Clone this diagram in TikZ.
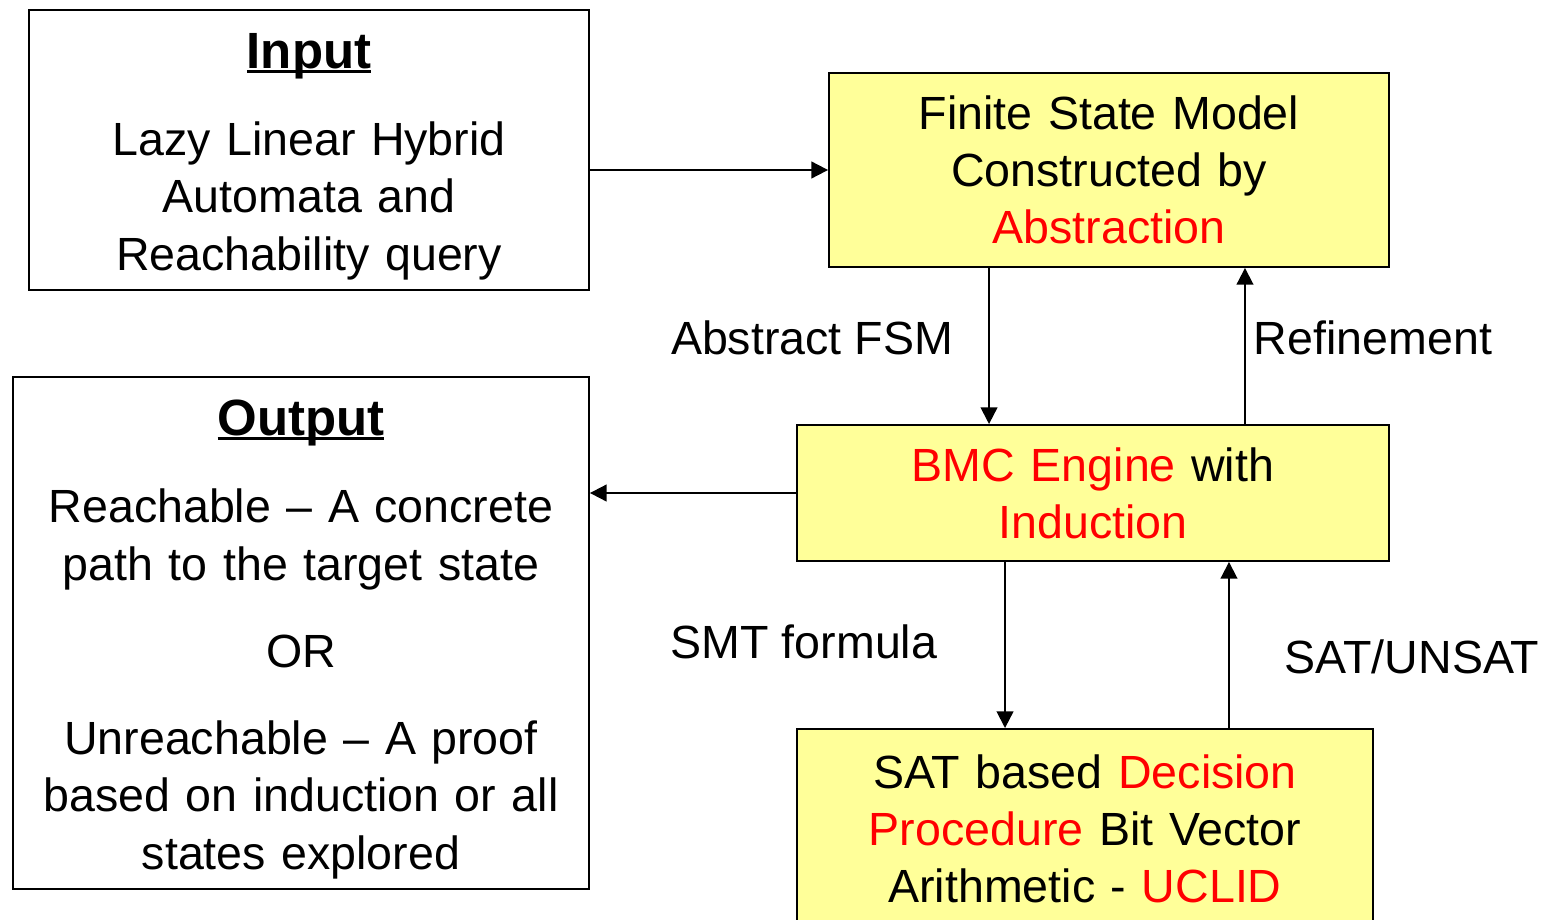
\documentclass[tikz,border=0pt]{standalone}
\usepackage{fontspec}
\setmainfont{Liberation Sans}
\usetikzlibrary{arrows.meta, positioning}

\definecolor{boxyellow}{RGB}{255,255,153}
\newcommand{\hd}[1]{{\fontsize{29}{32.6}\selectfont\bfseries
  \setbox0\hbox{#1}\rule{0pt}{27.6pt}\rlap{\rule[-2.6pt]{\wd0}{1.7pt}}\box0}}
\newcommand{\rd}[1]{\textcolor{red}{#1}}

\tikzset{
  txt/.style={font=\fontsize{26.5}{32.6}\selectfont},
  box/.style={txt, draw, line width=1.1pt, align=center, inner sep=0pt},
  fsmbox/.style={box, fill=boxyellow},
  lbl/.style={txt, inner sep=0pt},
  arr/.style={line width=1.1pt, -{Triangle[length=9.5pt,width=9.5pt]}}
}

\begin{document}
\begin{tikzpicture}[x=0.02cm, y=-0.02cm]
	\useasboundingbox (0,0) rectangle (1547,919);

	\node[box, text width=11.2cm, minimum height=5.6cm] (input) at (309,150)
		{\hd{Input}\\[17pt] Lazy Linear Hybrid\\ Automata and\\ Reachability query};
	\node[box, text width=11.52cm, minimum height=10.24cm] (output) at (301,633)
		{\hd{Output}\\[17pt] Reachable -- A concrete\\ path to the target state\\[17pt]
		 OR\\[17pt] Unreachable -- A proof\\ based on induction or all\\ states explored};

	\node[fsmbox, text width=11.2cm, minimum height=3.88cm] (fsm) at (1109,170)
		{Finite State Model\\ Constructed by\\ \rd{Abstraction}};
	\node[fsmbox, text width=11.84cm, minimum height=2.72cm] (bmc) at (1093,493)
		{\rd{BMC Engine} with\\ \rd{Induction}};
	\node[fsmbox, text width=11.52cm, minimum height=4.0cm] (sat) at (1085,829)
		{SAT based \rd{Decision}\\ \rd{Procedure} Bit Vector\\ Arithmetic - \rd{UCLID}};

	% edges
	\draw[arr] (input.east |- fsm.west) -- (fsm.west);
	\draw[arr] ([xshift=-2.4cm]fsm.south) -- ([xshift=-2.4cm]fsm.south |- bmc.north);
	\draw[arr] ([xshift=2.72cm]fsm.south |- bmc.north) -- ([xshift=2.72cm]fsm.south);
	\draw[arr] (bmc.west) -- (output.east |- bmc.west);
	\draw[arr] ([xshift=-1.76cm]bmc.south) -- ([xshift=-1.76cm]bmc.south |- sat.north);
	\draw[arr] ([xshift=2.72cm]bmc.south |- sat.north) -- ([xshift=2.72cm]bmc.south);

	% edge labels
	\node[lbl] (absfsm) at (812,338) {Abstract FSM};
	\node[lbl] (refine) at (1373,338) {Refinement};
	\node[lbl] (smt) at (804,642) {SMT formula};
	\node[lbl] (satres) at (1412,657) {SAT/UNSAT};
\end{tikzpicture}
\end{document}
